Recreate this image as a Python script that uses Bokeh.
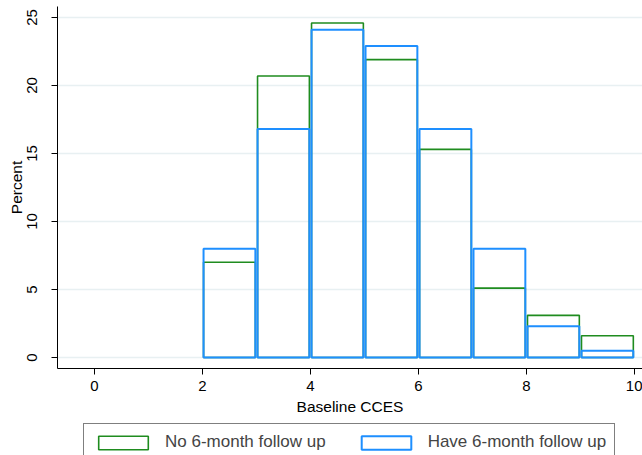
from bokeh.plotting import figure
from bokeh.layouts import column
from bokeh.models import Range1d, Legend, LegendItem, FixedTicker
from bokeh.embed import file_html
from bokeh.resources import INLINE

# Histogram of baseline CCES scores (percent of patients per unit bin)
bin_left = [2, 3, 4, 5, 6, 7, 8, 9]
bin_right = [3, 4, 5, 6, 7, 8, 9, 10]
no_followup = [7.0, 20.7, 24.6, 21.9, 15.3, 5.1, 3.1, 1.6]
have_followup = [8.0, 16.8, 24.1, 22.9, 16.8, 8.0, 2.3, 0.5]
x_ticks = [0, 2, 4, 6, 8, 10]
y_ticks = [0, 5, 10, 15, 20, 25]
series_names = ["No 6-month follow up", "Have 6-month follow up"]

FONT = "Liberation Sans"
GREEN = "#1f8c1f"
BLUE = "#1e8fff"
GAP = 0.02  # small space between neighbouring bars
GREEN_STYLE = dict(fill_color="white", fill_alpha=0, line_color=GREEN, line_width=1.6)
BLUE_STYLE = dict(fill_color="white", fill_alpha=0, line_color=BLUE, line_width=2.0)

p = figure(width=642, height=420, output_backend="svg", toolbar_location=None,
           x_range=Range1d(-0.685, 10.15), y_range=Range1d(-0.81, 25.81),
           min_border_left=57, min_border_right=0, min_border_top=6,
           min_border_bottom=52)
p.outline_line_color = None
p.background_fill_color = "white"
p.border_fill_color = "white"

lefts = [b + GAP for b in bin_left]
rights = [b - GAP for b in bin_right]

p.quad(left=lefts, right=rights, bottom=0, top=no_followup, **GREEN_STYLE)
p.quad(left=lefts, right=rights, bottom=0, top=have_followup, **BLUE_STYLE)

# axes
p.xaxis.ticker = FixedTicker(ticks=x_ticks)
p.yaxis.ticker = FixedTicker(ticks=y_ticks)
for ax in (p.xaxis[0], p.yaxis[0]):
    ax.axis_line_color = "black"
    ax.major_tick_line_color = "black"
    ax.minor_tick_line_color = None
    ax.major_tick_out = 6
    ax.major_tick_in = 0
    ax.major_label_text_font = FONT
    ax.major_label_text_font_size = "15px"
    ax.major_label_text_color = "black"
    ax.axis_label_text_font = FONT
    ax.axis_label_text_font_size = "15.5px"
    ax.axis_label_text_font_style = "normal"
    ax.axis_label_text_color = "black"

p.xaxis.axis_label = "Baseline CCES"
p.xaxis.major_label_standoff = 6
p.xaxis.axis_label_standoff = 4
p.yaxis.axis_label = "Percent"
p.yaxis.major_label_orientation = "vertical"
p.yaxis.major_label_standoff = 14
p.yaxis.axis_label_standoff = 0

p.xgrid.grid_line_color = None
p.ygrid.ticker = FixedTicker(ticks=y_ticks)
p.ygrid.grid_line_color = "#e8f0f2"
p.ygrid.grid_line_width = 1.5

# legend strip underneath the chart; its quads sit above its visible y range,
# so only the legend keys show
lg = figure(width=642, height=35, output_backend="svg", toolbar_location=None,
            x_range=p.x_range, y_range=Range1d(-2, -1),
            min_border=0, x_axis_type=None, y_axis_type=None)
lg.outline_line_color = None
lg.xgrid.grid_line_color = None
lg.ygrid.grid_line_color = None
r_no = lg.quad(left=lefts, right=rights, bottom=0, top=no_followup, **GREEN_STYLE)
r_have = lg.quad(left=lefts, right=rights, bottom=0, top=have_followup, **BLUE_STYLE)

legend = Legend(items=[LegendItem(label=series_names[0], renderers=[r_no]),
                       LegendItem(label=series_names[1], renderers=[r_have])],
                orientation="horizontal", location=(26, -6),
                glyph_width=62, glyph_height=17, label_standoff=11,
                spacing=29, padding=8, margin=0,
                label_text_font=FONT, label_text_font_size="17px",
                border_line_color="black", border_line_width=1,
                background_fill_color="white")
lg.add_layout(legend, "center")

open("out.html", "w").write(file_html(column(p, lg, spacing=0), INLINE))
